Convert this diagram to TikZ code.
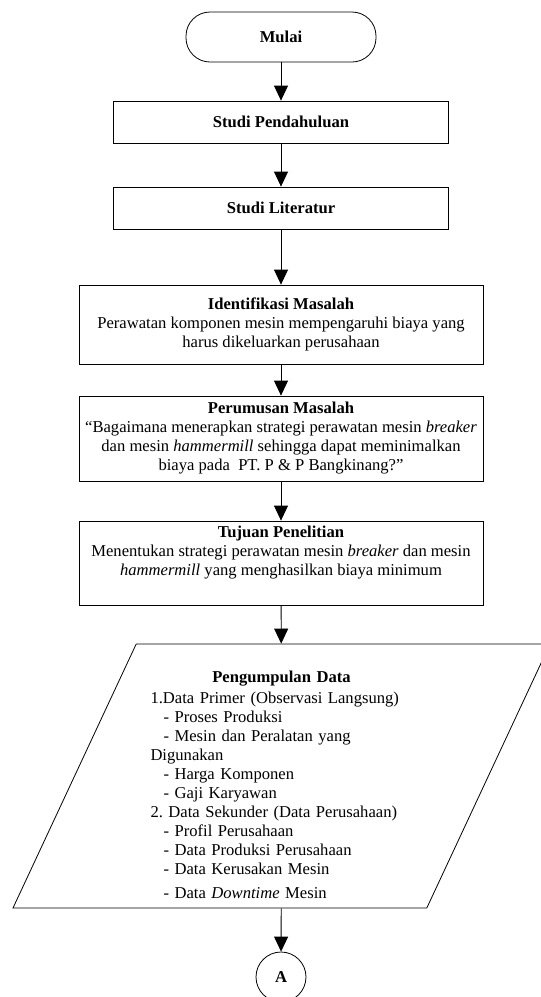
\documentclass[tikz,border=0pt]{standalone}
\usepackage{fontspec}
\setmainfont{Liberation Serif}
\usetikzlibrary{shapes.geometric,arrows.meta}
\frenchspacing
\begin{document}
\begin{tikzpicture}[x=1pt,y=-1pt,line width=0.8pt,>={Triangle[length=15pt,width=14pt]},
  every node/.style={font=\fontsize{16.6}{19}\selectfont},
  kotak/.style={draw,rectangle,align=center,inner sep=2pt,minimum width=404pt},
  studikotak/.style={draw,rectangle,minimum width=335pt,minimum height=42pt}]
\useasboundingbox (0,0) rectangle (541,997);

\node[draw,rectangle,rounded corners=24pt,minimum width=190pt,minimum height=50pt] (mulai) at (281,37) {\textbf{Mulai}};
\node[studikotak] (pendahuluan) at (281,122) {\textbf{Studi Pendahuluan}};
\node[studikotak] (literatur) at (281,208) {\textbf{Studi Literatur}};

\node[kotak,minimum height=79pt] (identifikasi) at (281,324.5) {\textbf{Identifikasi Masalah}\\
  Perawatan komponen mesin mempengaruhi biaya yang\\ harus dikeluarkan perusahaan};
\node[kotak,minimum height=85pt] (perumusan) at (281,438.5) {\textbf{Perumusan Masalah}\\
  “Bagaimana menerapkan strategi perawatan mesin \textit{breaker}\\
  dan mesin \textit{hammermill} sehingga dapat meminimalkan\\
  biaya pada\ \ PT. P \& P Bangkinang?”};
\node[kotak,minimum height=84pt] (tujuan) at (281,563) {\textbf{Tujuan Penelitian}\\
  Menentukan strategi perawatan mesin \textit{breaker} dan mesin\\
  \textit{hammermill} yang menghasilkan biaya minimum\\ \strut};

\node[draw,trapezium,trapezium left angle=63.3,trapezium right angle=116.7,
  trapezium stretches body=true,minimum width=537pt,minimum height=264pt,
  inner sep=0pt,text width=262pt,align=left] (data) at (281.5,776) {%
  \makebox[\linewidth]{\rule{0pt}{29pt}\textbf{Pengumpulan Data}}\\[2.4pt]
  1.Data Primer (Observasi Langsung)\\
  \hspace*{13pt}- Proses Produksi\\
  \hspace*{13pt}- Mesin dan Peralatan yang\\
  Digunakan\\
  \hspace*{13pt}- Harga Komponen\\
  \hspace*{13pt}- Gaji Karyawan\\
  2. Data Sekunder (Data Perusahaan)\\
  \hspace*{13pt}- Profil Perusahaan\\
  \hspace*{13pt}- Data Produksi Perusahaan\\
  \hspace*{13pt}- Data Kerusakan Mesin\\[4.4pt]
  \hspace*{13pt}- Data \textit{Downtime} Mesin};

\node[draw,circle,minimum size=50pt,inner sep=0pt] (konektorA) at (281,977) {\textbf{A}};

\foreach \a/\b in {mulai/pendahuluan,pendahuluan/literatur,literatur/identifikasi,
  identifikasi/perumusan,perumusan/tujuan,tujuan/data,data/konektorA}
{
    \draw[->] (\a) -- (\b);
}
\end{tikzpicture}
\end{document}
